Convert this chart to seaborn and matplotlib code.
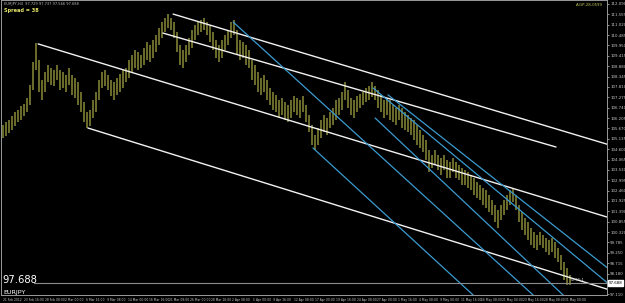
import numpy as np
import pandas as pd
import matplotlib
matplotlib.use("Agg")
import matplotlib.pyplot as plt
import seaborn as sns

# ---------------- data ----------------
symbol = "EURJPY"
last_price = 97.688
header_line = "EURJPY,H4  97.729 97.737 97.566 97.688"
spread_text = "Spread = 38"
corner_text = "A-GP-28-0599"

bar_high = [105.85, 106.00, 106.10, 106.31, 106.52, 106.62, 106.83, 106.93, 107.24, 107.91,
            109.10, 110.08, 109.20, 108.17, 108.58, 108.94, 108.79, 108.68, 108.94, 108.68,
            108.58, 108.43, 108.79, 108.43, 108.27, 108.07, 107.55, 107.03, 106.52, 106.62,
            107.14, 107.55, 108.17, 108.58, 108.68, 108.43, 108.17, 108.07, 108.27, 108.48,
            108.68, 108.79, 109.20, 109.46, 109.72, 109.61, 109.46, 109.82, 110.13, 109.97,
            110.23, 110.49, 110.85, 111.16, 111.37, 111.57, 111.37, 111.16, 110.64, 109.97,
            109.72, 109.97, 110.34, 110.75, 111.01, 111.16, 111.26, 111.37, 111.16, 111.01,
            110.64, 110.23, 109.97, 110.23, 110.49, 110.75, 111.16, 111.26, 110.75, 110.23,
            110.13, 109.97, 109.72, 109.20, 108.94, 108.58, 108.27, 108.43, 108.17, 107.76,
            107.55, 107.39, 107.14, 107.24, 107.03, 106.88, 107.14, 107.34, 107.24, 107.14,
            107.34, 106.88, 106.36, 105.85, 105.33, 105.69, 106.10, 106.36, 106.21, 106.52,
            106.72, 107.14, 107.24, 107.55, 108.07, 107.65, 107.24, 107.14, 107.34, 107.45,
            107.55, 107.76, 107.86, 108.07, 107.86, 107.65, 107.39, 107.14, 107.24, 107.14,
            106.88, 106.72, 106.88, 106.72, 106.52, 106.36, 106.21, 106.10, 105.85, 105.59,
            105.33, 105.07, 104.56, 104.30, 104.56, 104.30, 104.14, 104.30, 104.04, 103.94,
            104.14, 103.94, 103.78, 103.63, 103.52, 103.42, 103.27, 103.11, 102.91, 102.75,
            102.60, 102.49, 102.23, 101.98, 101.72, 101.46, 101.72, 101.98, 102.23, 102.49,
            102.60, 102.23, 101.72, 101.36, 101.05, 100.84, 100.53, 100.33, 100.17, 100.33,
            100.17, 100.02, 99.91, 100.02, 99.81, 99.50, 99.14, 98.78, 98.47, 98.11]
bar_low = [105.18, 105.28, 105.43, 105.59, 105.79, 106.00, 106.10, 106.31, 106.52, 106.88,
           107.65, 108.68, 107.55, 107.14, 107.55, 108.07, 107.91, 107.86, 108.17, 107.65,
           107.76, 107.55, 107.91, 107.39, 107.24, 106.88, 106.52, 106.00, 105.69, 105.79,
           106.21, 106.52, 107.14, 107.76, 107.86, 107.65, 107.34, 107.14, 107.39, 107.55,
           107.76, 108.07, 108.27, 108.58, 108.79, 108.68, 108.79, 108.94, 109.20, 109.10,
           109.30, 109.61, 109.97, 110.34, 110.64, 110.85, 110.75, 110.34, 109.61, 108.94,
           108.79, 109.10, 109.46, 109.82, 110.23, 110.49, 110.64, 110.75, 110.49, 110.13,
           109.72, 109.30, 109.10, 109.30, 109.72, 109.97, 110.34, 110.49, 109.46, 109.20,
           109.30, 108.94, 108.79, 108.17, 107.91, 107.55, 107.39, 107.55, 107.14, 106.88,
           106.62, 106.52, 106.21, 106.36, 106.10, 106.00, 106.21, 106.52, 106.36, 106.21,
           106.52, 106.00, 105.49, 104.81, 104.56, 104.81, 105.18, 105.49, 105.33, 105.69,
           105.85, 106.10, 106.36, 106.62, 107.14, 106.72, 106.36, 106.21, 106.52, 106.72,
           106.88, 107.03, 107.14, 107.29, 107.14, 106.72, 106.52, 106.21, 106.36, 106.10,
           106.00, 105.85, 106.10, 105.69, 105.59, 105.49, 105.33, 105.07, 104.81, 104.66,
           104.45, 104.04, 103.42, 103.63, 103.78, 103.52, 103.27, 103.52, 103.11, 103.11,
           103.42, 103.11, 103.01, 102.75, 102.75, 102.60, 102.49, 102.23, 102.08, 101.98,
           101.72, 101.56, 101.36, 101.20, 100.84, 100.53, 100.94, 101.20, 101.46, 101.72,
           101.87, 101.46, 100.84, 100.43, 100.17, 99.91, 99.65, 99.50, 99.40, 99.65,
           99.50, 99.29, 99.14, 99.29, 98.98, 98.78, 98.36, 97.85, 97.59, 97.59]

# trend lines: anchor (bar position, price) pairs
white_x0 = [56.7, 53.3, 11.7, 28.3]
white_p0 = [111.57, 110.59, 110.03, 105.69]
white_x1 = [202.3, 184.3, 202.3, 202.3]
white_p1 = [104.81, 104.71, 101.05, 97.33]

blue_x0 = [76.7, 103.3, 123.3, 124.0, 128.3]
blue_p0 = [111.16, 104.66, 107.76, 106.21, 107.40]
blue_x1 = [176.7, 156.7, 202.3, 186.7, 202.3]
blue_p1 = [97.07, 97.07, 97.59, 97.07, 98.37]

time_labels = ["21 Feb 2012", "23 Feb 16:00", "28 Feb 08:00", "2 Mar 00:00", "6 Mar 16:00",
               "9 Mar 08:00", "14 Mar 00:00", "16 Mar 16:00", "21 Mar 08:00", "26 Mar 00:00",
               "28 Mar 16:00", "2 Apr 08:00", "5 Apr 00:00", "9 Apr 16:00", "12 Apr 08:00",
               "17 Apr 00:00", "19 Apr 16:00", "24 Apr 08:00", "27 Apr 00:00", "1 May 16:00",
               "4 May 08:00", "9 May 00:00", "11 May 16:00", "16 May 08:00", "21 May 00:00",
               "23 May 16:00", "28 May 08:00", "31 May 00:00"]
price_labels = ["112.090", "111.555", "111.020", "110.485", "109.950", "109.415", "108.880",
                "108.345", "107.810", "107.275", "106.740", "106.205", "105.670", "105.135",
                "104.600", "104.065", "103.530", "102.995", "102.460", "101.925", "101.390",
                "100.855", "100.320", "99.785", "99.250", "98.715", "98.180", "97.110"]

# ---------------- style ----------------
sns.set_theme(style="dark")
plt.rcParams["font.family"] = ["DejaVu Sans"]
BG = "#000000"
BAR = "#8a8a36"
WHITE = "#f2f2f2"
BLUE = "#3a9bd0"
AX = "#c8c8c8"

W, H = 625, 303
fig = plt.figure(figsize=(W / 100, H / 100), dpi=100, facecolor=BG)
ax = fig.add_axes([1 / W, 8 / H, 606 / W, 295 / H], facecolor=BG)

bars = pd.DataFrame({"high": bar_high, "low": bar_low})
bars["pos"] = np.arange(len(bars))
ax.vlines(bars["pos"], bars["low"], bars["high"], color=BAR, lw=1.1)

XMAX = 201.3
for x0, p0, x1, p1 in zip(white_x0, white_p0, white_x1, white_p1):
    seg = pd.DataFrame({"x": [x0, x1], "p": [p0, p1]})
    sns.lineplot(data=seg, x="x", y="p", ax=ax, color=WHITE, lw=1.0, legend=False)
for x0, p0, x1, p1 in zip(blue_x0, blue_p0, blue_x1, blue_p1):
    seg = pd.DataFrame({"x": [x0, x1], "p": [p0, p1]})
    sns.lineplot(data=seg, x="x", y="p", ax=ax, color=BLUE, lw=0.9, legend=False)

# bid line
ax.axhline(last_price, xmin=0.055, color="#8a8a8a", lw=0.8)

ax.set_xlim(-0.67, XMAX)
ax.set_ylim(97.074, 112.296)
ax.set_xlabel("")
ax.set_ylabel("")

# right price axis
ax.yaxis.tick_right()
ax.set_yticks([float(s) for s in price_labels])
ax.set_yticklabels(price_labels)
ax.tick_params(axis="y", colors=AX, labelsize=2.8, length=1.5, width=0.5, pad=0.8, direction="out")
# time axis
tick_pos = [(2 + 20.8 * i) / 3 - 0.67 for i in range(len(time_labels))]
ax.set_xticks(tick_pos)
ax.set_xticklabels(time_labels, ha="left")
ax.tick_params(axis="x", colors=AX, labelsize=2.2, length=1.5, width=0.5, pad=0.6, direction="out")

for s in ax.spines.values():
    s.set_color("#9a9a9a")
    s.set_linewidth(0.7)

# current price box on the right axis
ax.annotate(f"{last_price:.3f}", xy=(1.0, last_price), xycoords=("axes fraction", "data"),
            xytext=(1, 0), textcoords="offset points", ha="left", va="center",
            fontsize=2.9, color="black",
            bbox=dict(boxstyle="square,pad=0.15", fc="white", ec="white"))

# texts
fig.text(4 / W, 1 - 2 / H, header_line, color="#bdbdbd", fontsize=2.6, va="top", ha="left")
fig.text(4 / W, 1 - 8 / H, spread_text, color="#e6e66a", fontsize=3.6, fontweight="bold",
         va="top", ha="left")
fig.text(1 - 22 / W, 1 - 3 / H, corner_text, color="#c8c85a", fontsize=2.8, va="top", ha="right")
fig.text(2 / W, 1 - 283 / H, f"{last_price:.3f}", color="white", fontsize=7.2, va="baseline",
         ha="left")
fig.text(3 / W, 1 - 294 / H, symbol, color="white", fontsize=4.6, va="baseline", ha="left")
ax.text(189.0, last_price + 0.04, "<2:55:1", color="#dddddd", fontsize=2.6, va="bottom", ha="left")

fig.savefig("out.png", dpi=100, facecolor=BG)
